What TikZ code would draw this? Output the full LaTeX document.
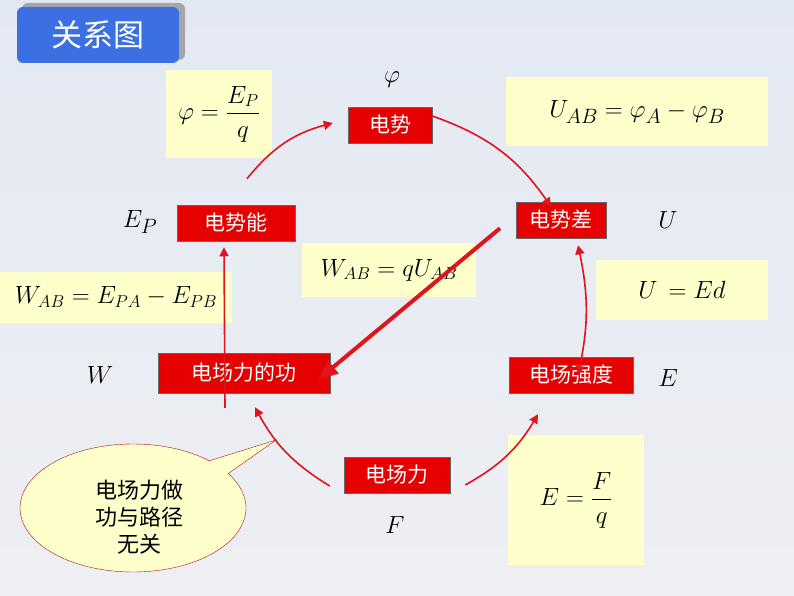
\documentclass[tikz,border=0pt]{standalone}
\usepackage{amsmath}
\usepackage{fontspec}
\setmainfont{Liberation Serif}
\newfontfamily\cjk{Noto Sans CJK SC}
\usetikzlibrary{shapes.callouts,arrows.meta}
\definecolor{bgtop}{HTML}{E3E9F3}
\definecolor{bgbot}{HTML}{EEEFF3}
\definecolor{boxred}{HTML}{E60000}
\definecolor{fyel}{HTML}{FFFFCC}
\definecolor{tblue}{HTML}{3C6FE2}
\definecolor{arred}{HTML}{E0141E}
\tikzset{
 redbox/.style={fill=boxred,draw=black!60,line width=0.5pt,text=white,font=\cjk\fontsize{21}{24}\selectfont,inner sep=0pt,minimum height=36pt},
 fbox/.style={fill=fyel,inner sep=0pt},
 lab/.style={font=\fontsize{28}{30}\selectfont},
 arr/.style={draw=arred,line width=1.6pt,-{Triangle[length=9pt,width=9pt]}}
}
\begin{document}
\begin{tikzpicture}[x=1pt,y=-1pt]
\useasboundingbox (0,0) rectangle (794,596);
\shade[top color=bgtop,bottom color=bgbot] (0,0) rectangle (794,596);
% title
\fill[gray!70,rounded corners=6pt] (22,3) rectangle (185,60);
\node[fill=tblue,rounded corners=6pt,minimum width=162pt,minimum height=56pt,text=white,font=\cjk\fontsize{31}{34}\selectfont] (title) at (98,35) {关系图};
% formula boxes
\node[fbox,minimum width=106pt,minimum height=88pt] (f1) at (219,114) {\fontsize{24}{26}\selectfont$\varphi=\dfrac{E_P}{q}$};
\node[fbox,minimum width=262pt,minimum height=69pt] (f2) at (637,112) {\fontsize{32}{34}\selectfont$U_{AB}=\varphi_A-\varphi_B$};
\node[fbox,minimum width=172pt,minimum height=60pt] (f3) at (682,290) {\fontsize{38}{40}\selectfont$U\,=Ed$};
\node[fbox,minimum width=174pt,minimum height=54pt] (f4) at (389,270) {\fontsize{24}{26}\selectfont$W_{AB}=qU_{AB}$};
\node[fbox,minimum width=232pt,minimum height=51pt] (f5) at (116,297) {\fontsize{24}{26}\selectfont$W_{AB}=E_{PA}-E_{PB}$};
\node[fbox,minimum width=136pt,minimum height=130pt] (f6) at (576,500) {\fontsize{34}{36}\selectfont$E=\dfrac{F}{q}$};
% red boxes
\node[redbox,minimum width=84pt] (phi) at (390,125) {电势};
\node[redbox,minimum width=90pt] (U) at (561,220) {电势差};
\node[redbox,minimum width=118pt] (Ep) at (236,223) {电势能};
\node[redbox,minimum width=172pt,minimum height=40pt] (W) at (244,373) {电场力的功};
\node[redbox,minimum width=124pt] (E) at (571,375) {电场强度};
\node[redbox,minimum width=106pt] (F) at (397,475) {电场力};
% labels
\node[lab] (lphi) at (392,80) {$\varphi$};
\node[lab] (lU) at (668,220) {$U$};
\node[lab] (lEp) at (140,222) {$E_P$};
\node[lab] (lW) at (100,375) {$W$};
\node[lab] (lE) at (668,378) {$E$};
\node[lab] (lF) at (395,525) {$F$};
% arrows
\draw[arr] (Ep.north) ++(11,-26) coordinate (a1) (a1) to[bend left=18] ([xshift=-15pt,yshift=2pt]phi.west);
\draw[arr] ([yshift=9pt]phi.east) to[bend left=18] ([xshift=-10pt,yshift=-5pt]U.north);
\draw[draw=arred,line width=1.6pt,{Triangle[length=9pt,width=9pt]}-{Triangle[length=9pt,width=9pt]}] ([xshift=17pt,yshift=-7pt]U.south) to[bend left=12] ([xshift=7pt,yshift=-18pt]E.north);
\draw[arr] ([xshift=15pt,yshift=-10pt]F.east) to[bend right=15] ([xshift=-33pt,yshift=-21pt]E.south);
\draw[arr] ([xshift=-14pt,yshift=-11pt]F.west) to[bend left=15] ([xshift=11pt,yshift=-14pt]W.south);
\draw[arr] ([xshift=-19pt,yshift=-55pt]W.north) -- ([xshift=-12pt,yshift=-6pt]Ep.south);
\draw[draw=arred,line width=4pt,-{Triangle[length=20pt,width=16pt]}] ([xshift=-61pt,yshift=10pt]U.south) -- ([xshift=74pt,yshift=-27pt]W.north);
% callout
\node[ellipse callout,draw=arred!80!black,fill=fyel,minimum width=226pt,minimum height=128pt,callout absolute pointer={(276,440)}] (c) at (133,508) {};
\node[font=\cjk\fontsize{22}{27}\selectfont,align=center] (ct) at (139,517) {电场力做\\功与路径\\无关};
\end{tikzpicture}
\end{document}
